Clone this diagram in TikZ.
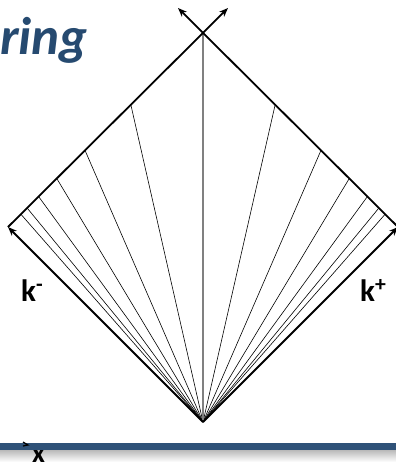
\documentclass[tikz,border=0pt]{standalone}
\usepackage{fontspec}
\setmainfont{Carlito}
\usetikzlibrary{arrows.meta, calc}
\definecolor{titleblue}{HTML}{264A70}
\definecolor{barblue}{HTML}{2F5278}
\tikzset{
  axis/.style={-{Stealth[length=9pt,width=7pt]}, line width=1.8pt},
  ray/.style={line width=0.6pt},
  mid/.style={line width=1.1pt, draw=gray},
  klabel/.style={font=\fontsize{31}{31}\selectfont, inner sep=0pt},
}

\begin{document}
\begin{tikzpicture}[x=1pt, y=-1pt]
  \useasboundingbox (0,0) rectangle (396,463);
  % title
  \node (title) [anchor=base west, inner sep=0pt, text=titleblue,
    font=\fontsize{53}{53}\selectfont\bfseries\itshape] at (0,54) {ring};
  % light cone corners
  \coordinate (bot) at (203,422);
  \coordinate (top) at (203,33);
  \coordinate (lft) at (8,227);
  \coordinate (rgt) at (398,227);
  \coordinate (tl) at (178,8);
  \coordinate (tr) at (228,8);
  % fan of rays
  \foreach \f [count=\i] in {0.63,0.395,0.25,0.157,0.098,0.066} {
    \coordinate (l\i) at ($(lft)!\f!(top)$);
    \coordinate (r\i) at ($(rgt)!\f!(top)$);
    \draw[ray] (bot) -- (l\i);
    \draw[ray] (bot) -- (r\i);
  }
  \draw[mid] (bot) -- (top);
  \draw[axis] (bot) -- (lft);
  \draw[axis] (bot) -- (rgt);
  \draw[axis] (lft) -- (tr);
  \draw[axis] (rgt) -- (tl);
  \node (km) [klabel, anchor=base west] at (21,301) {\textbf{k}\textsuperscript{\textbf{-}}};
  \node (kp) [klabel, anchor=base west] at (360,301) {\textbf{k}\textsuperscript{\textbf{+}}};
  % bottom bar
  \shade[top color=gray!55, bottom color=white] (0,450) rectangle (396,462);
  \node (xl) [anchor=base west, inner sep=0pt,
    font=\fontsize{28}{28}\selectfont\bfseries] at (32,462) {x};
  \fill[barblue] (0,443) rectangle (396,450);
  \coordinate (xt) at (28,445);
  \draw[line width=1.2pt] ($(xt)+(-5,-3)$) -- (xt) -- ($(xt)+(-5,1)$);
\end{tikzpicture}
\end{document}
